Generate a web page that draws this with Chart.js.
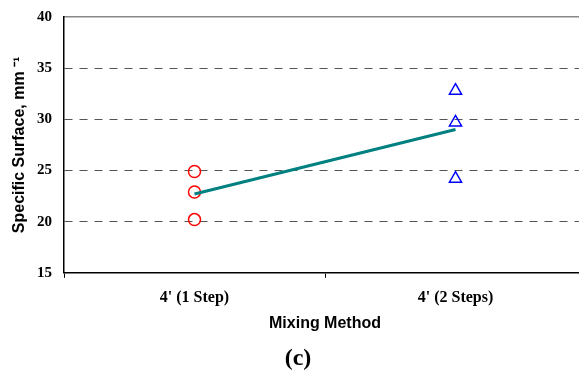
<!DOCTYPE html>
<html>
<head>
<meta charset="utf-8">
<script src="https://cdn.jsdelivr.net/npm/chart.js@4.4.0/dist/chart.umd.min.js"></script>
<style>
  html, body { margin: 0; padding: 0; background: #fff; overflow: hidden; }
  #wrap { position: relative; top: -4px; width: 600px; height: 381px; }
</style>
</head>
<body>
<div id="wrap"><canvas id="myChart"></canvas></div>
<script>
// values
const methods = ["4' (1 Step)", "4' (2 Steps)"];
const oneStep = [24.9, 22.9, 20.2];
const twoSteps = [32.8, 29.7, 24.2];
const means = [22.7, 29.0];
const yTicks = [15, 20, 25, 30, 35, 40];

const serif = "'Liberation Serif', 'Times New Roman', serif";
const sans = "'Liberation Sans', Arial, sans-serif";

drawChart();
function drawChart() {
  const ctx = document.getElementById("myChart").getContext("2d");
  const myChart = new Chart(ctx, {
    type: "line",
    data: {
      labels: methods,
      datasets: [
        {
          label: "mean",
          data: means,
          borderColor: "#008080",
          borderWidth: 3,
          pointRadius: 0,
          tension: 0
        },
        {
          label: "1 step",
          data: oneStep.map((v) => ({ x: methods[0], y: v })),
          showLine: false,
          pointStyle: "circle",
          pointRadius: 6,
          pointBorderWidth: 1.5,
          pointBorderColor: "#ff0000",
          pointBackgroundColor: "rgba(0,0,0,0)"
        },
        {
          label: "2 steps",
          data: twoSteps.map((v) => ({ x: methods[1], y: v })),
          showLine: false,
          pointStyle: "triangle",
          pointRadius: 7,
          pointBorderWidth: 1.5,
          pointBorderColor: "#0000ff",
          pointBackgroundColor: "rgba(0,0,0,0)"
        }
      ]
    },
    options: {
      responsive: true,
      maintainAspectRatio: false,
      animation: false,
      layout: { padding: { left: 10, right: 14, top: 8, bottom: 4 } },
      plugins: {
        legend: { display: false },
        tooltip: { enabled: false },
        title: {
          display: true,
          position: "bottom",
          text: "(c)",
          color: "#000",
          font: { family: serif, size: 24, weight: "bold" },
          padding: { top: 11, bottom: 0 }
        }
      },
      scales: {
        x: {
          type: "category",
          offset: true,
          grid: {
            offset: true,
            drawOnChartArea: false,
            color: "#000",
            tickLength: 5
          },
          border: { color: "#000", width: 1.5 },
          ticks: {
            color: "#000",
            padding: 10,
            font: { family: serif, size: 16, weight: "bold" }
          },
          title: {
            display: true,
            text: "Mixing Method",
            color: "#000",
            font: { family: sans, size: 16, weight: "bold" },
            padding: { top: -3, bottom: 0 }
          }
        },
        x2: {
          type: "linear",
          position: "top",
          min: 0,
          max: 1,
          grid: { display: false, drawTicks: false },
          ticks: { display: false },
          border: { color: "#888", width: 1.5 }
        },
        y: {
          min: 15,
          max: 40,
          afterBuildTicks: (axis) => {
            axis.ticks = yTicks.map((v) => ({ value: v }));
          },
          afterFit: (axis) => {
            axis.width = 54;
          },
          grid: {
            drawTicks: false,
            color: (c) => (c.tick && (c.tick.value === 15 || c.tick.value === 40)) ? "rgba(0,0,0,0)" : "#555",
            lineWidth: 1
          },
          border: { color: "#000", width: 1.5, dash: [8, 7] },
          ticks: {
            color: "#000",
            padding: 12,
            font: { family: serif, size: 15, weight: "bold" }
          },
          title: {
            display: true,
            text: "Specific Surface, mm \u207B\u00B9",
            color: "#000",
            font: { family: sans, size: 16, weight: "bold" },
            padding: { top: 0, bottom: 6 }
          }
        }
      }
    }
  });
}
</script>
</body>
</html>
